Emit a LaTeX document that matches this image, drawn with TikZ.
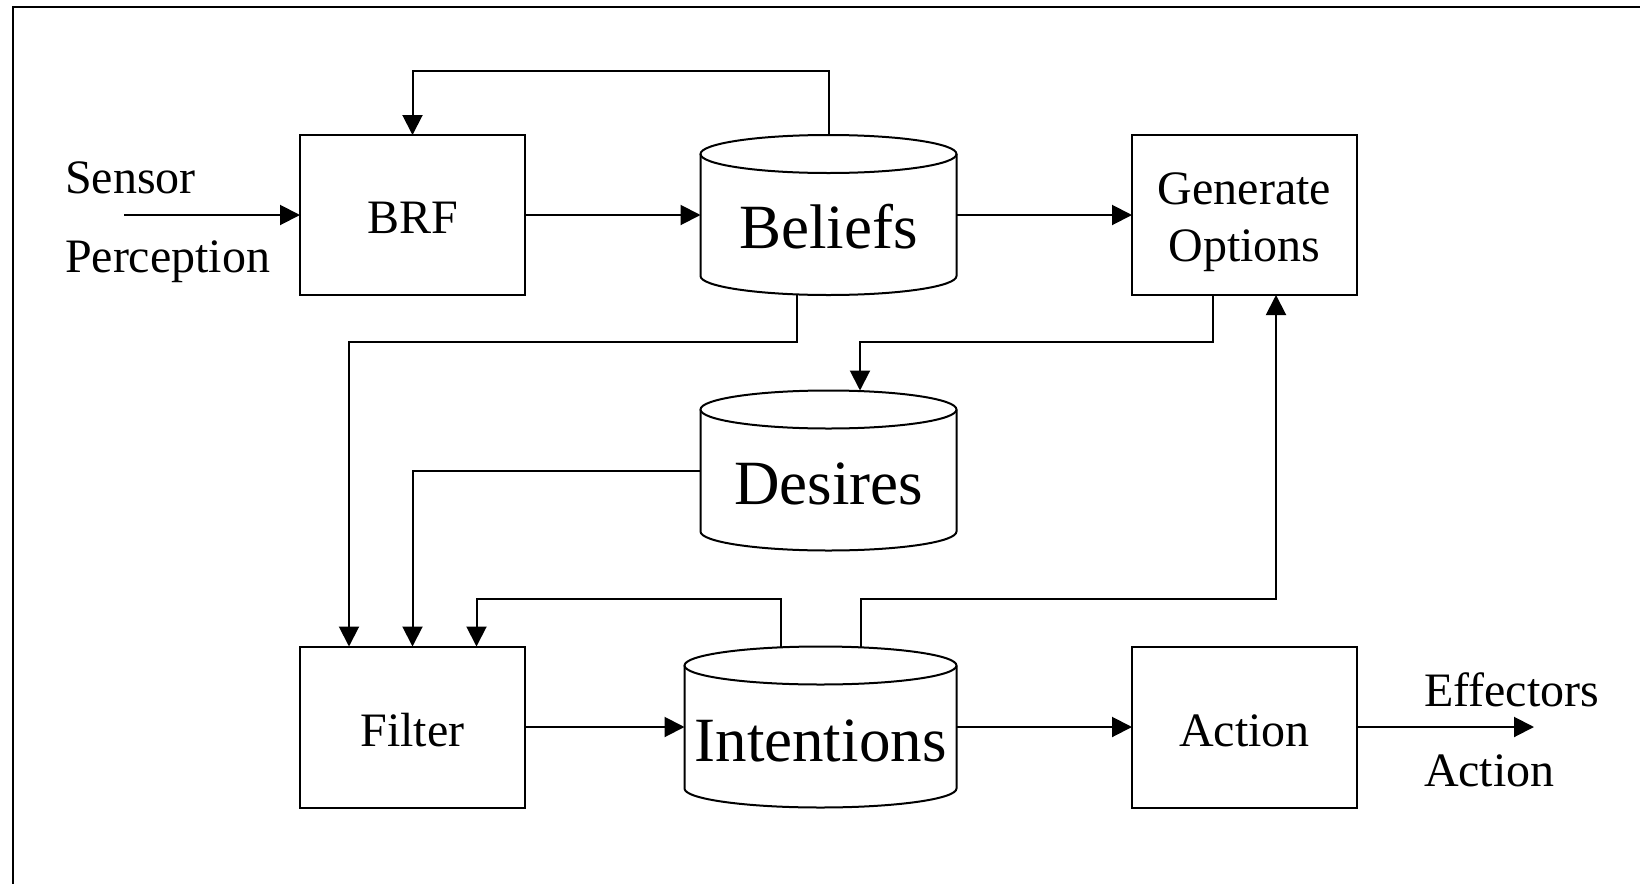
\documentclass[tikz,border=0pt]{standalone}
\usepackage{fontspec}
\setmainfont{Liberation Serif}
\usetikzlibrary{arrows.meta}

% outline of a storage drum drawn round a (hidden) rectangular node
% #1 node name, #2 horizontal radius of the end ellipses
\newcommand\drum[2]{%
  \draw ([yshift=-9.5pt]#1.north west) -- ([yshift=9.5pt]#1.south west)
        arc[start angle=180,end angle=360,x radius=#2,y radius=9.5pt]
        -- ([yshift=-9.5pt]#1.north east);
  \draw ([yshift=-9.5pt]#1.north) ellipse[x radius=#2,y radius=9.5pt];
}
% move text down without changing its reported size
\newcommand\dropby[2]{\raisebox{-#1}[\height][\depth]{#2}}

\begin{document}
\begin{tikzpicture}[x=0.5pt,y=-0.5pt,line width=1pt,
  box/.style={draw,rectangle,inner sep=0pt,outer sep=0pt,
    minimum width=112.5pt,minimum height=80pt,
    font=\fontsize{24pt}{28.5pt}\selectfont},
  store/.style={rectangle,inner sep=0pt,outer sep=0pt,minimum height=80pt,
    font=\fontsize{31.5pt}{36pt}\selectfont},
  lbl/.style={inner sep=0pt,outer sep=0pt,anchor=base west,
    font=\fontsize{24pt}{28.5pt}\selectfont},
  arr/.style={-{Triangle[length=10pt,width=10pt]}}]

\useasboundingbox (0,0) rectangle (1640,884);
\fill[white] (0,0) rectangle (1640,884);

% frame
\draw (1640,7) -- (12.5,7) -- (12.5,884);

% process boxes
\node[box] (brf)    at (412.5,215)  {\dropby{1.5pt}{BRF}};
\node[box] (gen)    at (1244.5,215) {\dropby{3.5pt}{\begin{tabular}{@{}c@{}}Generate\\Options\end{tabular}}};
\node[box,minimum height=80.5pt] (filter) at (412.5,727)  {\dropby{1.5pt}{Filter}};
\node[box,minimum height=80.5pt] (action) at (1244.5,727) {\dropby{2pt}{Action}};

% stores
\node[store,minimum width=128pt] (bel) at (828.5,215)   {\dropby{6pt}{Beliefs}};
\node[store,minimum width=128pt] (des) at (828.5,470.5) {\dropby{6.5pt}{Desires}};
\node[store,minimum width=136pt,minimum height=80.5pt] (int) at (820.5,727) {\dropby{7pt}{Intentions}};
\drum{bel}{64pt}
\drum{des}{64pt}
\drum{int}{68pt}

% side labels
\node[lbl] (sensor) at (65,193)   {Sensor};
\node[lbl] (perc)   at (65,272)   {Perception};
\node[lbl] (eff)    at (1424,706) {Effectors};
\node[lbl] (act)    at (1424,786) {Action};

\coordinate (sensin) at (124,215);
\coordinate (effout) at (1534,727);
\coordinate (topy)   at (0,71);

% connectors
\draw[arr] (sensin) -- (brf.west);
\draw[arr] (brf.east) -- (bel.west);
\draw[arr] (bel.east) -- (gen.west);
\draw[arr] (bel.north) -- (bel.north |- topy) -| (brf.north);
\draw[arr] ([xshift=-15.75pt]bel.south) -- ++(0,47) -| ([xshift=-31.75pt]filter.north);
\draw[arr] ([xshift=-15.75pt]gen.south) -- ++(0,47) -| ([xshift=15.75pt]des.north);
\draw[arr] (des.west) -| (filter.north);
\draw[arr] ([xshift=-20pt]int.north) -- ++(0,-48) -| ([xshift=32pt]filter.north);
\draw[arr] ([xshift=20pt]int.north) -- ++(0,-48) -| ([xshift=15.75pt]gen.south);
\draw[arr] (filter.east) -- (int.west);
\draw[arr] (int.east) -- (action.west);
\draw[arr] (action.east) -- (effout);
\end{tikzpicture}
\end{document}
